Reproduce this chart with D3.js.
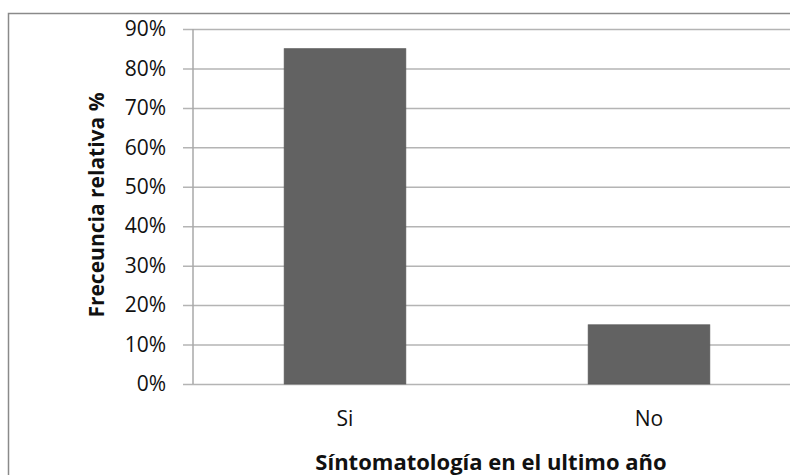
<!DOCTYPE html>
<html>
<head>
<meta charset="utf-8">
<script src="https://cdn.jsdelivr.net/npm/d3@7"></script>
<style>
  html, body { margin: 0; padding: 0; background: #fff; }
  svg { display: block; }
</style>
</head>
<body>
<svg id="chart" width="790" height="475"></svg>
<script>
// Categories and relative frequencies (%)
const categories = ["Si", "No"];
const values = [85, 15];
const tickValues = [0, 10, 20, 30, 40, 50, 60, 70, 80, 90];
const tickLabels = ["0%", "10%", "20%", "30%", "40%", "50%", "60%", "70%", "80%", "90%"];

const svg = d3.select("#chart");
const font = "'Open Sans', 'DejaVu Sans', sans-serif";

// Plot area (extends past the right edge of the frame)
const plotLeft = 193, plotRight = 801, plotTop = 29, plotBottom = 384;

// Outer chart frame
svg.append("rect")
  .attr("x", 8.5).attr("y", 13.5)
  .attr("width", 800).attr("height", 480)
  .attr("fill", "#fff")
  .attr("stroke", "#8a8a8a")
  .attr("stroke-width", 1.5);

const x = d3.scaleBand()
  .domain(categories)
  .range([plotLeft, plotRight])
  .paddingInner(0.6)
  .paddingOuter(0.3);

const y = d3.scaleLinear()
  .domain([0, 90])
  .range([plotBottom, plotTop]);

// Horizontal gridlines with tick labels
const yAxis = d3.axisLeft(y)
  .tickValues(tickValues)
  .tickFormat((d, i) => tickLabels[i])
  .tickSize(-(plotRight - plotLeft))
  .tickPadding(27);

const gy = svg.append("g")
  .attr("transform", `translate(${plotLeft},0)`)
  .call(yAxis);
gy.select(".domain").remove();
gy.selectAll(".tick line")
  .attr("x1", -10)
  .attr("stroke", "#b4b4b4")
  .attr("stroke-width", 1.5);
gy.selectAll(".tick text")
  .attr("font-family", font)
  .attr("font-size", 21)
  .attr("fill", "#111");

// Vertical axis line
svg.append("line")
  .attr("x1", plotLeft).attr("x2", plotLeft)
  .attr("y1", plotTop).attr("y2", plotBottom)
  .attr("stroke", "#a8a8a8")
  .attr("stroke-width", 1.5);

// Bars
svg.append("g").selectAll("rect")
  .data(categories)
  .join("rect")
  .attr("x", d => x(d))
  .attr("width", x.bandwidth())
  .attr("y", (d, i) => y(values[i]))
  .attr("height", (d, i) => y(0) - y(values[i]))
  .attr("fill", "#626262")
  .attr("stroke", "#5a5a5a")
  .attr("stroke-width", 0.8);

// Category labels
const xAxis = d3.axisBottom(x).tickSize(0).tickPadding(27);
const gx = svg.append("g")
  .attr("transform", `translate(0,${plotBottom})`)
  .call(xAxis);
gx.select(".domain").remove();
gx.selectAll(".tick text")
  .attr("font-family", font)
  .attr("font-size", 21)
  .attr("fill", "#111");

// Axis titles
svg.append("text")
  .attr("x", 491)
  .attr("y", 470)
  .attr("text-anchor", "middle")
  .attr("font-family", font)
  .attr("font-weight", "bold")
  .attr("font-size", 22)
  .attr("fill", "#111")
  .text("Síntomatología en el ultimo año");

svg.append("text")
  .attr("transform", "translate(104,205) rotate(-90)")
  .attr("text-anchor", "middle")
  .attr("font-family", font)
  .attr("font-weight", "bold")
  .attr("font-size", 21)
  .attr("fill", "#111")
  .text("Freceuncia relativa %");
</script>
</body>
</html>
